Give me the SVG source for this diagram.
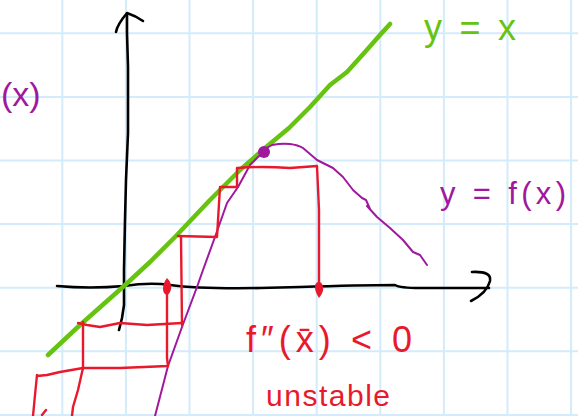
<svg xmlns="http://www.w3.org/2000/svg" width="578" height="416" viewBox="0 0 578 416">
<style>
.grid{stroke:#d3ebfa;stroke-width:2;fill:none}
.ax{stroke:#000;stroke-width:2.6;fill:none;stroke-linecap:round;stroke-linejoin:round}
.grn{stroke:#66c30f;stroke-width:4.5;fill:none;stroke-linecap:round;stroke-linejoin:round}
.pur{stroke:#a0189e;stroke-width:2;fill:none;stroke-linecap:round;stroke-linejoin:round}
.red{stroke:#e8192c;stroke-width:2.4;fill:none;stroke-linecap:round;stroke-linejoin:round}
.t{font-family:"Liberation Sans",Arial,sans-serif}
</style>
<rect width="578" height="416" fill="#fff"/>
<g id="grid" class="grid">
<path d="M62.3,0V416M125.9,0V416M189.5,0V416M253.1,0V416M316.7,0V416M380.3,0V416M443.9,0V416M507.5,0V416M571.1,0V416"/>
<path d="M0,33.3H578M0,96.9H578M0,160.5H578M0,224.1H578M0,287.7H578M0,351.3H578M0,414.9H578"/>
</g>
<g id="axes">
<path class="ax" d="M119,330 L122,318 L124,305 L124,270 L125,220 L126,180 L128,133 L128,67 L127,33 L127,14"/>
<path class="ax" d="M116,32 Q117,25 127,13 Q136,16 143,21"/>
<path class="ax" d="M57,286 Q90,289 124,286 Q150,282 170,285 Q200,289 260,288 L300,287 Q360,285 395,285 Q400,288 420,288 L489,288"/>
<path class="ax" d="M472,272 Q492,271 490,281 Q487,293 471,301"/>
</g>
<g id="line-y-eq-x">
<path class="grn" d="M48,355 L80,325 L124,286 L150,262 L175,237 L210,200 L240,170 L265,148 L289,128 L310,107 L330,85 L347,72 L365,52 L380,35 L390,24"/>
</g>
<g id="curve-f">
<path class="pur" d="M155,416 L168,366 L182,327 L197,287 L203,270 L215,237 L227,203 L238,187 L250,165 L258,157 L263,153"/>
<path class="pur" d="M263,150 L272,145 Q282,143 290,144 Q298,145 303,148 L317,160 L333,168 L343,177 L353,190 L362,198 L366,200 L370,209 L367,206 L377,217 L390,228 L403,240 L413,252 L420,255 L427,265"/>
<circle cx="264" cy="152" r="6" fill="#a0189e"/>
</g>
<g id="cobweb">
<path class="red" d="M238,168 Q260,166 290,168 L317,166 L319,210 L319,284"/>
<path class="red" d="M237,168 L237,187 L220,187 L217,237 L178,236"/>
<path class="red" d="M181,237 L182,325"/>
<path class="red" d="M182,323 L147,325 L120,323 L100,327 L87,325 L78,323"/>
<path class="red" d="M83,322 L83,368 L78,390 L73,407 L72,416"/>
<path class="red" d="M167,287 L167,358 L168,366 L120,368 L83,368 L60,372 L47,375 L37,376"/>
<path class="red" d="M37,375 L35,395 L33,416"/>
<path class="red" d="M42,415 L46,410"/>
<path d="M167,278 Q172,283 171,289 Q170,294 167,295 Q163,294 163,289 Q163,283 167,278 Z" fill="#e8192c"/>
<path d="M319,298 Q324,292 323,287 Q322,282 319,282 Q315,282 315,287 Q315,292 319,298 Z" fill="#e8192c"/>
</g>
<g id="labels">
<text class="t" x="1" y="106" font-size="34" fill="#a0189e">(x)</text>
<text class="t" x="424" y="40" font-size="36" fill="#66c30f" textLength="92" lengthAdjust="spacing">y = x</text>
<text class="t" x="440" y="204" font-size="31" fill="#a0189e" textLength="126" lengthAdjust="spacing">y = f(x)</text>
<text class="t" x="246" y="352" font-size="36" fill="#e8192c" textLength="166" lengthAdjust="spacing">f″(x̄) &lt; 0</text>
<text class="t" x="266" y="406" font-size="30" fill="#e8192c" textLength="124" lengthAdjust="spacing">unstable</text>
</g>
</svg>
